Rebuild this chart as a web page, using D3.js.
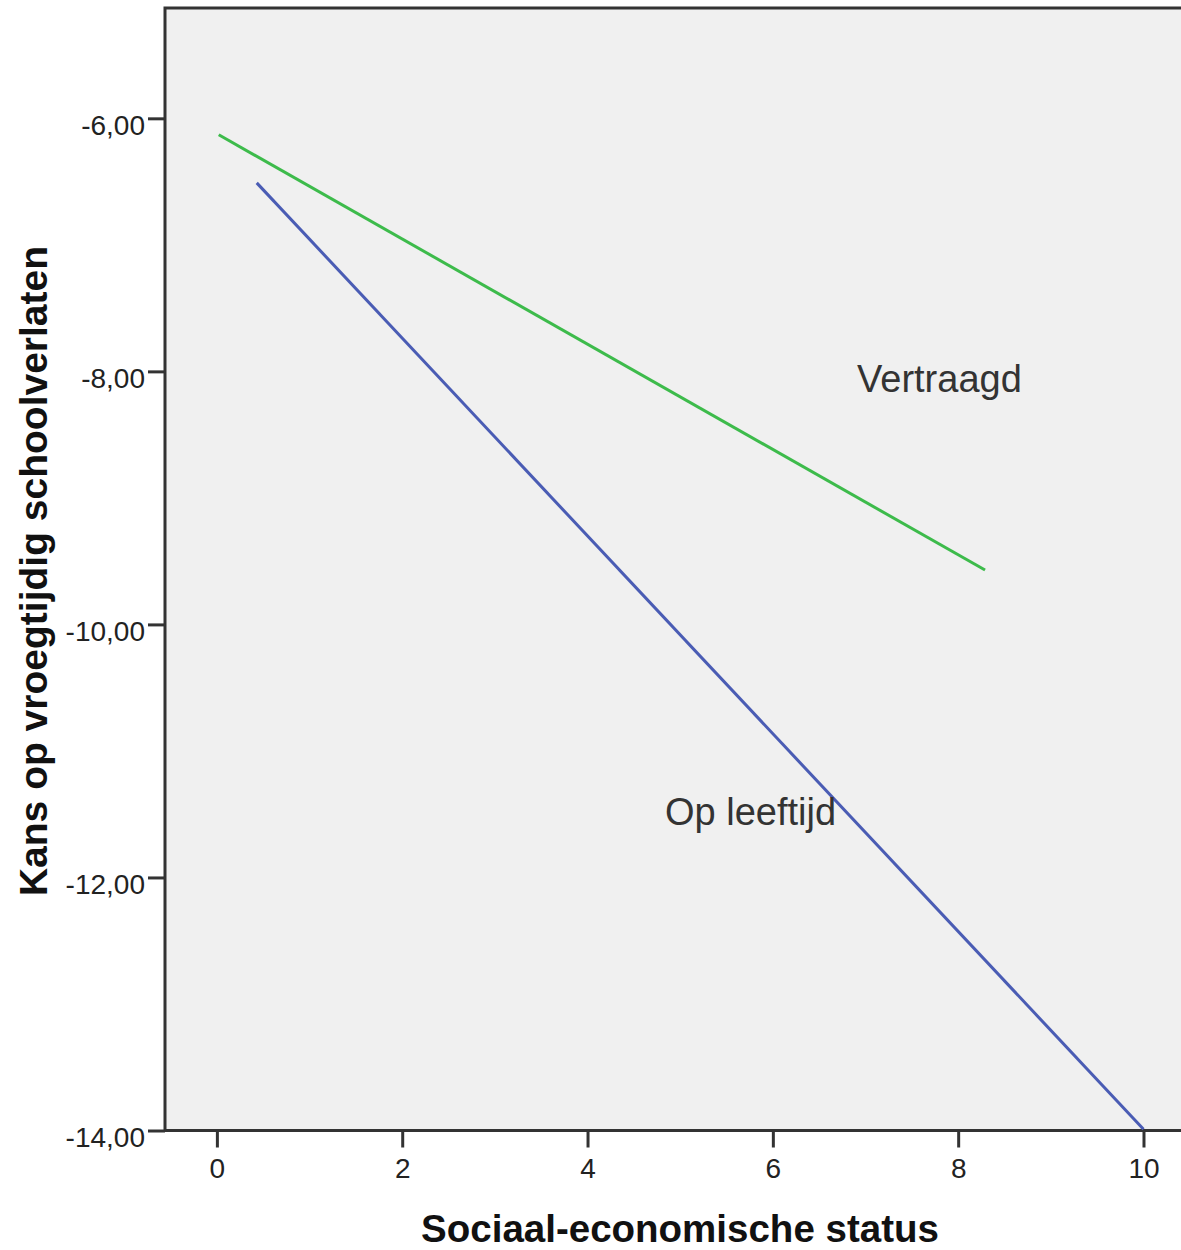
<!DOCTYPE html>
<html><head><meta charset="utf-8">
<script src="https://cdn.jsdelivr.net/npm/d3@7"></script>
<style>
html,body{margin:0;padding:0;background:#fff;overflow:hidden}
text{font-family:"Liberation Sans",Arial,sans-serif}
</style></head>
<body><svg id="c" width="1181" height="1250"></svg>
<script>
// Data
const xTicks = [0, 2, 4, 6, 8, 10];
const yTicks = [-14, -12, -10, -8, -6];
const seriesNames = ["Vertraagd", "Op leeftijd"];
const vertraagdX = [0.02, 8.29];
const vertraagdY = [-6.13, -9.57];
const opLeeftijdX = [0.43, 10.0];
const opLeeftijdY = [-6.51, -13.99];
const xTitle = "Sociaal-economische status";
const yTitle = "Kans op vroegtijdig schoolverlaten";

const svg = d3.select("#c");
const x = d3.scaleLinear().domain([-0.56, 10.5]).range([165, 165 + 11.06 * 92.66]);
const y = d3.scaleLinear().domain([-14, -5.128]).range([1130.5, 8]);

// plot background
svg.append("rect")
  .attr("x", x(-0.56)).attr("y", y(-5.128))
  .attr("width", x(10.5) - x(-0.56)).attr("height", y(-14) - y(-5.128))
  .attr("fill", "#f0f0f0").attr("stroke", "#333").attr("stroke-width", 3);

const fmt = d => (d < 0 ? "-" : "") + Math.abs(d).toFixed(2).replace(".", ",");

const yAxis = svg.append("g").attr("transform", `translate(${x(-0.56)},0)`)
  .call(d3.axisLeft(y).tickValues(yTicks).tickSize(17).tickPadding(3).tickFormat(fmt));
yAxis.select(".domain").remove();
yAxis.selectAll("line").attr("stroke", "#333").attr("stroke-width", 3);
yAxis.selectAll("text").attr("font-size", 28).attr("fill", "#222")
  .attr("font-family", "'Liberation Sans', Arial, sans-serif").attr("dy", "0.58em");

const xAxis = svg.append("g").attr("transform", `translate(0,${y(-14)})`)
  .call(d3.axisBottom(x).tickValues(xTicks).tickSize(17).tickPadding(11).tickFormat(d3.format("d")));
xAxis.select(".domain").remove();
xAxis.selectAll("line").attr("stroke", "#333").attr("stroke-width", 3);
xAxis.selectAll("text").attr("font-size", 28).attr("fill", "#222")
  .attr("font-family", "'Liberation Sans', Arial, sans-serif");

// lines
const line = d3.line().x(d => x(d[0])).y(d => y(d[1]));
svg.append("path").datum(vertraagdX.map((v, i) => [v, vertraagdY[i]]))
  .attr("d", line).attr("fill", "none").attr("stroke", "#3dbb4b").attr("stroke-width", 3);
svg.append("path").datum(opLeeftijdX.map((v, i) => [v, opLeeftijdY[i]]))
  .attr("d", line).attr("fill", "none").attr("stroke", "#4a5cb4").attr("stroke-width", 3);

// labels
svg.append("text").attr("x", 857).attr("y", 392).attr("font-size", 38).attr("fill", "#333")
  .text(seriesNames[0]);
svg.append("text").attr("x", 665).attr("y", 825).attr("font-size", 38).attr("fill", "#333")
  .text(seriesNames[1]);

// axis titles
svg.append("text").attr("x", 680).attr("y", 1242).attr("text-anchor", "middle")
  .attr("font-size", 38.5).attr("font-weight", "bold").attr("fill", "#111").text(xTitle);
svg.append("text").attr("transform", "translate(47,571) rotate(-90)").attr("text-anchor", "middle")
  .attr("font-size", 39).attr("font-weight", "bold").attr("fill", "#111").text(yTitle);
</script></body></html>
